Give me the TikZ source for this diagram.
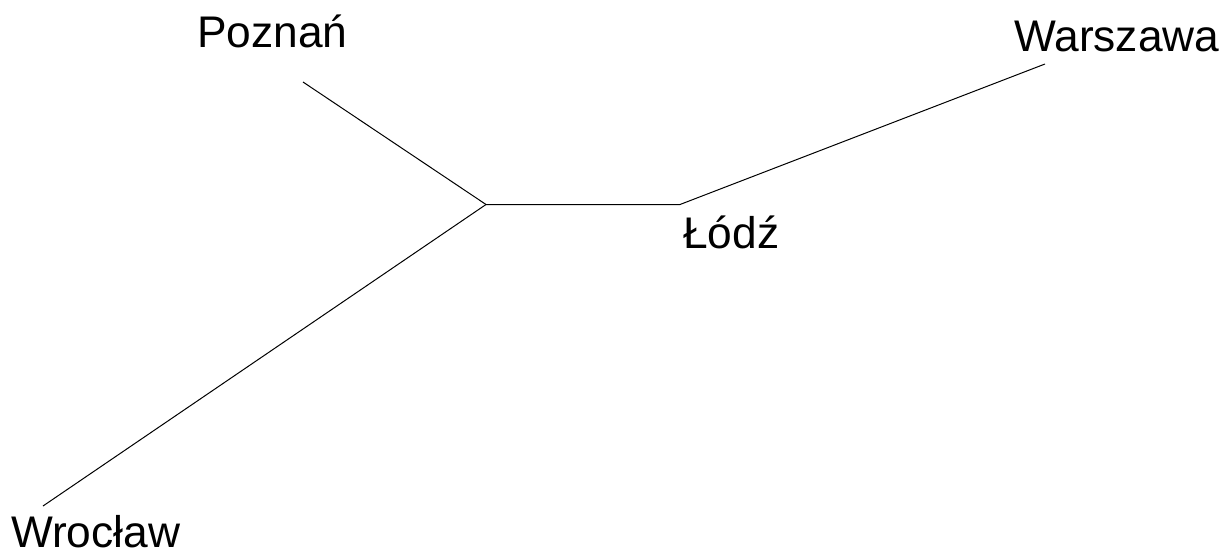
\documentclass[tikz,border=0pt]{standalone}
\usepackage{fontspec}
\setmainfont{Liberation Sans}
\begin{document}
\begin{tikzpicture}[x=1pt,y=-1pt,
  lbl/.style={inner sep=0pt,anchor=base west,text depth=0pt,font=\fontsize{44.3}{50}\selectfont},
  road/.style={line width=1pt,black}]
\useasboundingbox (0,0) rectangle (1229,552);
\coordinate (pz) at (303,82);
\coordinate (jn) at (486,204.5);
\coordinate (ld) at (680,204.5);
\coordinate (wa) at (1045,64);
\coordinate (wr) at (43,506);
\node[lbl] (tpz) at (197,47) {Poznań};
\node[lbl] (twa) at (1014,51) {Warszawa};
\node[lbl] (tld) at (683,248) {Łódź};
\node[lbl] (twr) at (11,547) {Wrocław};
\draw[road] (pz) -- (jn) -- (ld) -- (wa);
\draw[road] (jn) -- (wr);
\end{tikzpicture}
\end{document}
